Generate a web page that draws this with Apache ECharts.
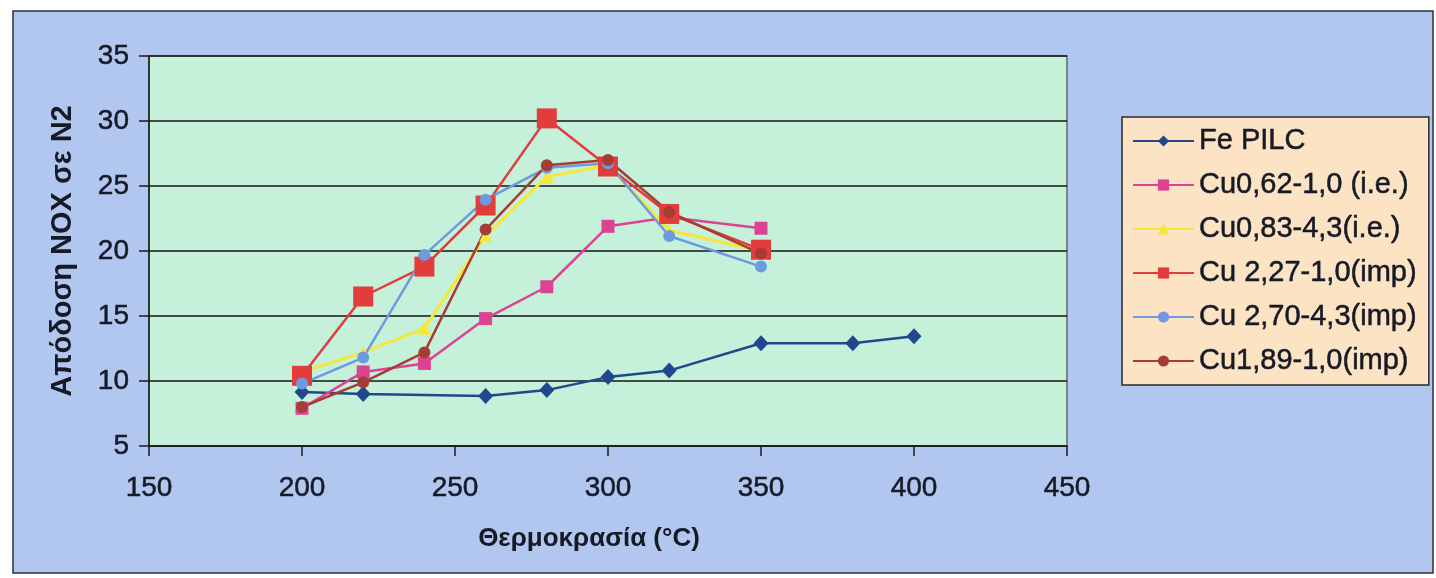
<!DOCTYPE html>
<html>
<head>
<meta charset="utf-8">
<title>Απόδοση NOX σε N2</title>
<script src="https://cdn.jsdelivr.net/npm/echarts@6/dist/echarts.min.js"></script>
<style>
  html, body { margin: 0; padding: 0; background: #ffffff; }
  #chart { width: 1436px; height: 578px; }
</style>
</head>
<body>
<div id="chart"></div>
<script>
// Temperatures (°C) at which the Cu samples were measured
const cuTemps = [200, 220, 240, 260, 280, 300, 320, 350];
// Temperatures (°C) for the Fe PILC sample
const feTemps = [200, 220, 260, 280, 300, 320, 350, 380, 400];

// NOX → N2 yield for each catalyst
const fePilc   = [9.15, 9.0, 8.85, 9.3, 10.3, 10.8, 12.9, 12.9, 13.45];
const cu062ie  = [7.9, 10.7, 11.35, 14.8, 17.25, 21.9, 22.6, 21.75];
const cu083ie  = [10.7, 12.2, 14.05, 21.2, 25.7, 26.6, 21.6, 20.0];
const cu227imp = [10.4, 16.5, 18.8, 23.5, 30.2, 26.5, 22.85, 20.1];
const cu270imp = [9.8, 11.8, 19.7, 23.95, 26.4, 26.75, 21.15, 18.8];
const cu189imp = [8.0, 9.9, 12.2, 21.65, 26.6, 27.0, 23.0, 19.8];

// Series names as shown in the legend
const seriesNames = [
  'Fe PILC',
  'Cu0,62-1,0 (i.e.)',
  'Cu0,83-4,3(i.e.)',
  'Cu 2,27-1,0(imp)',
  'Cu 2,70-4,3(imp)',
  'Cu1,89-1,0(imp)'
];

// Axis tick settings
const xTicks = { min: 150, max: 450, interval: 50 };
const yTicks = { min: 5, max: 35, interval: 5 };

const zip = (xs, ys) => xs.map((x, i) => [x, ys[i]]);

const textColor = '#161a26';
const fontFamily = '"Liberation Sans", Arial, sans-serif';
// slightly heavier strokes for the regular-weight labels
const heavy = { textBorderColor: textColor, textBorderWidth: 0.5 };

function lineSeries(name, xs, ys, color, symbol, size, width) {
  return {
    name: name,
    type: 'line',
    data: zip(xs, ys),
    symbol: symbol,
    symbolSize: size,
    showSymbol: true,
    lineStyle: { color: color, width: width },
    itemStyle: { color: color, borderWidth: 0 },
    emphasis: { disabled: true }
  };
}

const chart = echarts.init(document.getElementById('chart'), null, { renderer: 'canvas' });

chart.setOption({
  animation: false,
  backgroundColor: '#ffffff',
  textStyle: { fontFamily: fontFamily },
  graphic: [
    {
      type: 'rect',
      z: -10,
      silent: true,
      shape: { x: 13, y: 11, width: 1420, height: 562 },
      style: { fill: '#b1c7ef', stroke: '#2b2f3a', lineWidth: 1.5 }
    }
  ],
  grid: {
    left: 149,
    right: 369,
    top: 56,
    bottom: 132,
    show: true,
    backgroundColor: '#c5f1db',
    borderColor: '#5d6e6c',
    borderWidth: 1.5
  },
  legend: {
    orient: 'vertical',
    left: 1122,
    top: 117,
    padding: [8, 12, 8, 10],
    backgroundColor: '#fbe3c3',
    borderColor: '#2a2a2a',
    borderWidth: 1.5,
    itemWidth: 61,
    itemHeight: 14,
    itemGap: 12,
    selectedMode: false,
    textStyle: Object.assign({
      fontFamily: fontFamily,
      fontSize: 29,
      lineHeight: 32,
      color: textColor
    }, heavy),
    data: seriesNames
  },
  xAxis: {
    type: 'value',
    min: xTicks.min,
    max: xTicks.max,
    interval: xTicks.interval,
    name: 'Θερμοκρασία (°C)',
    nameLocation: 'middle',
    nameGap: 80,
    nameTextStyle: {
      fontFamily: fontFamily,
      fontSize: 26,
      fontWeight: 'bold',
      color: textColor,
      padding: [0, 38, 0, 0]
    },
    axisLine: { show: true, onZero: false, lineStyle: { color: '#1a1a1a', width: 1.5 } },
    axisTick: { show: true, inside: false, length: 10, lineStyle: { color: '#1a1a1a', width: 1.5 } },
    axisLabel: Object.assign({ margin: 28, fontSize: 28, color: textColor, fontFamily: fontFamily }, heavy),
    splitLine: { show: false }
  },
  yAxis: {
    type: 'value',
    min: yTicks.min,
    max: yTicks.max,
    interval: yTicks.interval,
    name: 'Απόδοση NOX σε N2',
    nameLocation: 'middle',
    nameGap: 72,
    nameTextStyle: {
      fontFamily: fontFamily,
      fontSize: 29,
      fontWeight: 'bold',
      color: textColor
    },
    axisLine: { show: true, onZero: false, lineStyle: { color: '#1a1a1a', width: 1.5 } },
    axisTick: { show: true, inside: false, length: 10, lineStyle: { color: '#1a1a1a', width: 1.5 } },
    axisLabel: Object.assign({ margin: 20, fontSize: 28, color: textColor, fontFamily: fontFamily }, heavy),
    splitLine: { show: true, lineStyle: { color: '#151515', width: 1.5 } }
  },
  series: [
    lineSeries(seriesNames[0], feTemps, fePilc,   '#20488c', 'diamond',  [15, 16], 2.5),
    lineSeries(seriesNames[1], cuTemps, cu062ie,  '#dc4393', 'rect',     13, 2.5),
    lineSeries(seriesNames[2], cuTemps, cu083ie,  '#f6e73a', 'triangle', 13, 3),
    lineSeries(seriesNames[3], cuTemps, cu227imp, '#e23c3c', 'rect',     20, 2.5),
    lineSeries(seriesNames[4], cuTemps, cu270imp, '#6e9adf', 'circle',   12, 2.5),
    lineSeries(seriesNames[5], cuTemps, cu189imp, '#a63d35', 'circle',   12, 2.5)
  ]
});
</script>
</body>
</html>
